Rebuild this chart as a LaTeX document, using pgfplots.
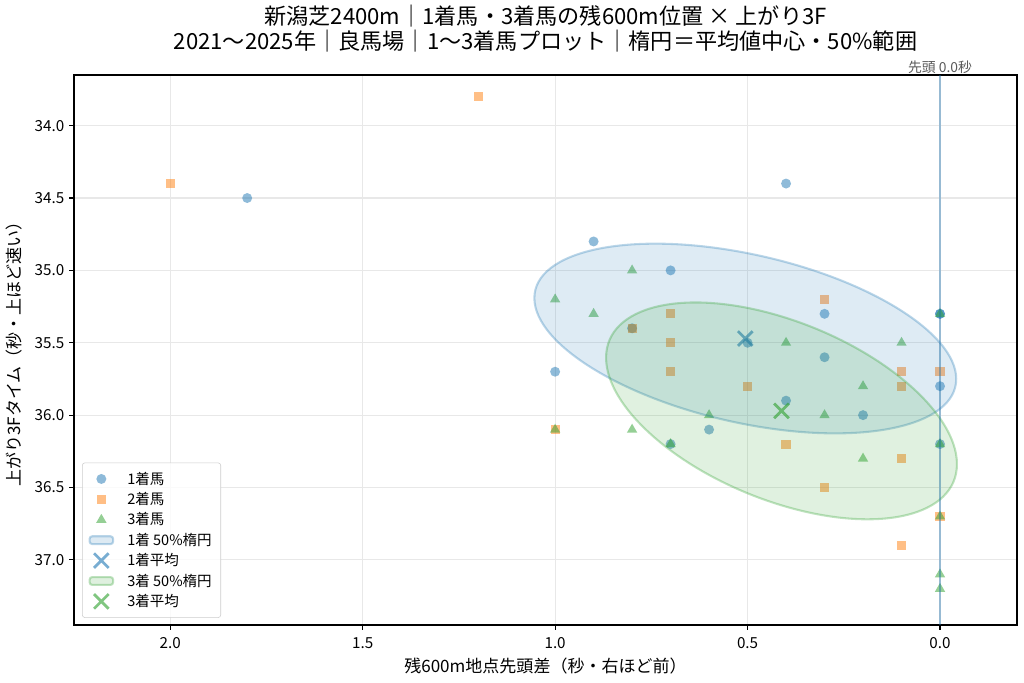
\documentclass[border=0pt]{standalone}
\usepackage{fontspec}
\setmainfont{Noto Sans CJK JP}
\usepackage{pgfplots}
\pgfplotsset{compat=1.18}
\definecolor{tabblue}{RGB}{31,119,180}
\definecolor{taborange}{RGB}{255,127,14}
\definecolor{tabgreen}{RGB}{44,160,44}
\begin{document}
\begin{tikzpicture}
\path[use as bounding box] (-0.74in,-0.58in) rectangle (9.50in,6.25in);
\begin{axis}[name=ax, at={(0,0)}, anchor=south west, scale only axis,
  width=9.43in, height=5.50in,
  x dir=reverse, y dir=reverse,
  xmin=-0.2, xmax=2.25, ymin=33.65, ymax=37.45,
  xtick={0,0.5,1,1.5,2}, ytick={34,34.5,35,35.5,36,36.5,37},
  xticklabel style={/pgf/number format/.cd, fixed, fixed zerofill, precision=1, /tikz/yshift=-2pt},
  yticklabel style={/pgf/number format/.cd, fixed, fixed zerofill, precision=1},
  /pgf/number format/assume math mode=true,
  tick label style={font=\fontsize{11}{13}\selectfont},
  tick align=outside, tick pos=left,
  major tick length=3.5pt,
  every tick/.style={black, line width=0.8pt},
  axis line style={black, line width=0.8pt},
  grid=major, major grid style={black!9, line width=0.8pt},
  clip mode=individual,
  legend style={at={(0.0085,0.013)}, anchor=south west, draw=black!20, rounded corners=2pt,
    fill=white, fill opacity=0.8, text opacity=1,
    font=\fontsize{10.5}{12.5}\selectfont, row sep=0.4pt, column sep=7.5pt, inner sep=4.5pt},
  legend cell align=left,
]
% 1着馬
\addplot[only marks, mark=*, mark size=3.6pt, color=tabblue, mark options={fill=tabblue, fill opacity=0.5, draw opacity=0}]
coordinates {(1.8,34.5) (0.4,34.4) (0.9,34.8) (0.7,35.0) (0.3,35.3) (0,35.3) (0,35.3) (0.8,35.4)
(0.5,35.5) (0.3,35.6) (1.0,35.7) (0,35.8) (0.4,35.9) (0.2,36.0) (0.6,36.1) (0.7,36.2) (0,36.2)};
\addlegendentry{1着馬}
% 2着馬
\addplot[only marks, mark=square*, mark size=3.3pt, color=taborange, mark options={fill=taborange, fill opacity=0.5, draw opacity=0}]
coordinates {(2.0,34.4) (1.2,33.8) (0.3,35.2) (0.7,35.3) (0.8,35.4) (0.7,35.5) (0.7,35.7) (0.1,35.7)
(0,35.7) (0.5,35.8) (0.1,35.8) (1.0,36.1) (0.4,36.2) (0.1,36.3) (0.3,36.5) (0,36.7) (0.1,36.9)};
\addlegendentry{2着馬}
% 3着馬
\addplot[only marks, mark=triangle*, mark size=4.3pt, color=tabgreen, mark options={fill=tabgreen, fill opacity=0.5, draw opacity=0}]
coordinates {(0.8,35.0) (1.0,35.2) (0.9,35.3) (0,35.3) (0.4,35.5) (0.1,35.5) (0.2,35.8) (0.6,36.0)
(0.3,36.0) (1.0,36.1) (0.8,36.1) (0.7,36.2) (0,36.2) (0.2,36.3) (0,36.7) (0,37.1) (0,37.2)};
\addlegendentry{3着馬}
% 1着 ellipse
\pgfplotsextra{%
\begin{pgfscope}
\pgfsetfillcolor{tabblue}\pgfsetstrokecolor{tabblue}
\pgfsetfillopacity{0.15}\pgfsetstrokeopacity{0.3}
\pgfsetlinewidth{1.5pt}
\pgfpathellipse{\pgfplotspointaxisxy{0.5059}{35.4706}}{\pgfplotspointaxisdirectionxy{0.548}{-0.2794}}{\pgfplotspointaxisdirectionxy{0}{0.5927}}
\pgfusepath{fill,stroke}
\end{pgfscope}}
\addlegendimage{area legend, fill=tabblue, fill opacity=0.15, draw=tabblue, draw opacity=0.3, line width=1.5pt}
\addlegendentry{1着 50\%楕円}
\addplot[only marks, mark=x, mark size=7.5pt, color=tabblue, mark options={draw=tabblue, draw opacity=0.6, line width=2pt}]
coordinates {(0.5059,35.4706)};
\addlegendentry{1着平均}
% 3着 ellipse
\pgfplotsextra{%
\begin{pgfscope}
\pgfsetfillcolor{tabgreen}\pgfsetstrokecolor{tabgreen}
\pgfsetfillopacity{0.15}\pgfsetstrokeopacity{0.3}
\pgfsetlinewidth{1.5pt}
\pgfpathellipse{\pgfplotspointaxisxy{0.4118}{35.9706}}{\pgfplotspointaxisdirectionxy{0.4558}{-0.3675}}{\pgfplotspointaxisdirectionxy{0}{0.6526}}
\pgfusepath{fill,stroke}
\end{pgfscope}}
\addlegendimage{area legend, fill=tabgreen, fill opacity=0.15, draw=tabgreen, draw opacity=0.3, line width=1.5pt}
\addlegendentry{3着 50\%楕円}
\addplot[only marks, mark=x, mark size=7.5pt, color=tabgreen, mark options={draw=tabgreen, draw opacity=0.6, line width=2pt}]
coordinates {(0.4118,35.9706)};
\addlegendentry{3着平均}
% 先頭ライン
\addplot[tabblue, opacity=0.4, line width=1.2pt, forget plot] coordinates {(0,33.65) (0,37.45)};
\node[anchor=south, text=black!65, font=\fontsize{10}{12}\selectfont, inner sep=0.5pt] at (axis cs:0,33.65) {先頭 0.0秒};
\end{axis}
\node[anchor=base, font=\fontsize{16}{19}\selectfont] at ([yshift=0.507in]ax.north) {新潟芝2400m｜1着馬・3着馬の残600m位置 × 上がり3F};
\node[anchor=base, font=\fontsize{16}{19}\selectfont] at ([yshift=0.25in]ax.north) {2021〜2025年｜良馬場｜1〜3着馬プロット｜楕円＝平均値中心・50\%範囲};
\node[anchor=base, font=\fontsize{12.3}{14}\selectfont] at ([yshift=-0.47in]ax.south) {残600m地点先頭差（秒・右ほど前）};
\node[anchor=center, rotate=90, font=\fontsize{12.3}{14}\selectfont] at ([xshift=-0.60in]ax.west) {上がり3Fタイム（秒・上ほど速い）};
\end{tikzpicture}
\end{document}
